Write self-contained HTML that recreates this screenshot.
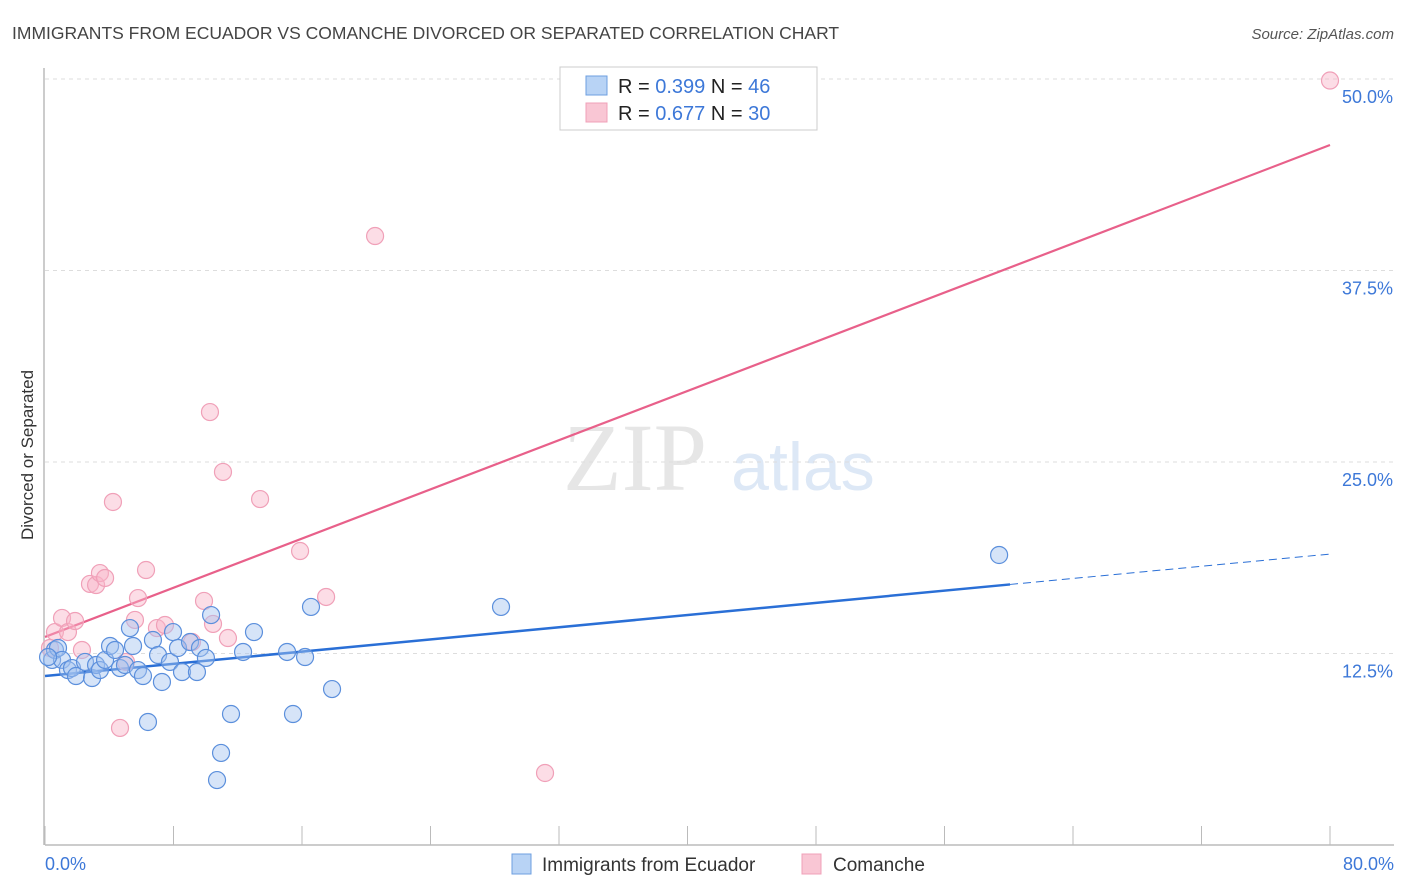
<!DOCTYPE html>
<html><head><meta charset="utf-8"><style>
body{margin:0;background:#fff;font-family:"Liberation Sans",sans-serif}
svg{display:block}
</style></head><body>
<svg id="chart" width="1406" height="892" xmlns="http://www.w3.org/2000/svg" font-family="Liberation Sans, sans-serif">
<text x="12" y="39" font-size="17.5" fill="#444">IMMIGRANTS FROM ECUADOR VS COMANCHE DIVORCED OR SEPARATED CORRELATION CHART</text>
<text x="1394" y="39" font-size="15" fill="#555" text-anchor="end" font-style="italic">Source: ZipAtlas.com</text>
<g>
<text x="635" y="490" font-size="96" fill="#e6e6e6" text-anchor="middle" font-family="Liberation Serif, serif">ZIP</text>
<text x="803" y="490" font-size="68" fill="#dde8f6" text-anchor="middle">atlas</text>
</g>
<text transform="translate(33,455) rotate(-90)" font-size="17" fill="#333" text-anchor="middle">Divorced or Separated</text>
<g id="grid"></g>
<g id="axes"></g>
<g id="lines"></g>
<g id="points"></g>
<g>
<rect x="560" y="67" width="257" height="63" fill="#fff" stroke="#ccc"/>
<rect x="586" y="76" width="21" height="19" fill="#b8d3f5" stroke="#6e9fe0"/>
<text x="618" y="93" font-size="20" fill="#222">R = <tspan fill="#3d78d8">0.399</tspan>   N = <tspan fill="#3d78d8">46</tspan></text>
<rect x="586" y="103" width="21" height="19" fill="#f9c6d4" stroke="#f0a0b8"/>
<text x="618" y="120" font-size="20" fill="#222">R = <tspan fill="#3d78d8">0.677</tspan>   N = <tspan fill="#3d78d8">30</tspan></text>
</g>
<g>
<rect x="512" y="854" width="19" height="20" fill="#b8d3f5" stroke="#6e9fe0"/>
<text x="542" y="871" font-size="19" fill="#333">Immigrants from Ecuador</text>
<rect x="802" y="854" width="19" height="20" fill="#f9c6d4" stroke="#f0a0b8"/>
<text x="833" y="871" font-size="19" fill="#333">Comanche</text>
</g>
</svg>
<script>
const blueX=[0.44,0.62,0.81,1.06,1.43,1.68,1.93,2.49,2.93,3.18,3.42,3.74,4.05,4.36,4.67,4.98,5.29,5.48,5.79,6.10,6.41,6.72,7.04,7.28,7.78,7.97,8.28,8.53,9.03,9.46,9.65,10.02,10.34,10.71,10.96,11.58,12.33,13.01,15.07,15.44,16.19,16.56,17.87,28.39,59.40,0.19];
const blueY=[12.08,12.73,12.86,12.08,11.42,11.55,11.03,11.95,10.90,11.75,11.42,12.08,12.99,12.73,11.55,11.75,14.16,12.99,11.42,11.03,8.03,13.38,12.40,10.64,11.95,13.90,12.86,11.29,13.25,11.29,12.86,12.21,15.01,4.24,6.01,8.55,12.60,13.90,12.60,8.55,12.27,15.54,10.18,15.54,18.93,12.27];
const pinkX=[0.31,0.62,1.06,1.43,1.87,2.30,2.80,3.18,3.42,3.74,4.23,4.67,5.04,5.60,5.79,6.29,6.97,7.47,9.15,9.90,10.27,10.46,11.08,11.39,13.39,15.88,17.50,20.55,31.13,80.0];
const pinkY=[12.86,13.90,14.82,13.90,14.62,12.73,17.04,16.97,17.75,17.43,22.39,7.64,11.95,14.69,16.12,17.95,14.16,14.36,13.25,15.93,28.26,14.43,24.35,13.51,22.58,19.19,16.19,39.75,4.70,49.9];
const blueTrend=[11.03,18.99];
const blueSolidEnd=60.08;
const pinkTrend=[13.58,45.69];
const yTicks=[12.5,25,37.5,50];
const yTickLabels=["12.5%","25.0%","37.5%","50.0%"];
const xTicks=[0,8,16,24,32,40,48,56,64,72,80];
const xTickLabels=["0.0%","80.0%"];

const NS="http://www.w3.org/2000/svg";
const sx=v=>45+v/80*1285;
const sy=v=>845-v/50*766;
function mk(tag,attrs,parent){const e=document.createElementNS(NS,tag);for(const k in attrs)e.setAttribute(k,attrs[k]);document.getElementById(parent).appendChild(e);return e;}

yTicks.forEach((t,i)=>{
  const g=mk('line',{x1:45,x2:1394,y1:sy(t),y2:sy(t),stroke:'#ddd','stroke-dasharray':'4,4'},'grid');
  
  
  const l=mk('text',{x:1393,y:sy(t)+24,'font-size':18,fill:'#3d78d8','text-anchor':'end'},'grid');
  l.textContent=yTickLabels[i];
  
  
});
const ax=mk('line',{x1:45,x2:1394,y1:845,y2:845,stroke:'#bbb','stroke-width':1.5},'axes');


const ay=mk('line',{x1:44,x2:44,y1:68,y2:845,stroke:'#bbb','stroke-width':1.5},'axes');


xTicks.forEach(t=>{
  const k=mk('line',{x1:sx(t),x2:sx(t),y1:826,y2:845,stroke:'#bbb'},'axes');
  
  
});
const xl0=mk('text',{x:45,y:870,'font-size':18,fill:'#3d78d8'},'axes');
xl0.textContent=xTickLabels[0];


const xl1=mk('text',{x:1394,y:870,'font-size':18,fill:'#3d78d8','text-anchor':'end'},'axes');
xl1.textContent=xTickLabels[1];



function pts(xs,ys,fill,stroke,name){
  xs.forEach((x,i)=>{
    const c=mk('circle',{cx:sx(x),cy:sy(ys[i]),r:8.5,fill:fill,stroke:stroke,'stroke-width':1.2},'points');
    
    
  });
}
pts(pinkX,pinkY,'rgba(248,180,200,0.45)','#f0a0b8','comanche-point');
pts(blueX,blueY,'rgba(164,196,240,0.45)','#5b8fdc','ecuador-point');

const by=x=>blueTrend[0]+(blueTrend[1]-blueTrend[0])*x/80;
const b1=mk('line',{x1:sx(0),y1:sy(by(0)),x2:sx(blueSolidEnd),y2:sy(by(blueSolidEnd)),stroke:'#2a6fd6','stroke-width':2.5},'lines');


const b2=mk('line',{x1:sx(blueSolidEnd),y1:sy(by(blueSolidEnd)),x2:sx(80),y2:sy(by(80)),stroke:'#2a6fd6','stroke-width':1,'stroke-dasharray':'8,5'},'lines');


const p1=mk('line',{x1:sx(0),y1:sy(pinkTrend[0]),x2:sx(80),y2:sy(pinkTrend[1]),stroke:'#e8608a','stroke-width':2.2},'lines');


</script>
</body></html>
